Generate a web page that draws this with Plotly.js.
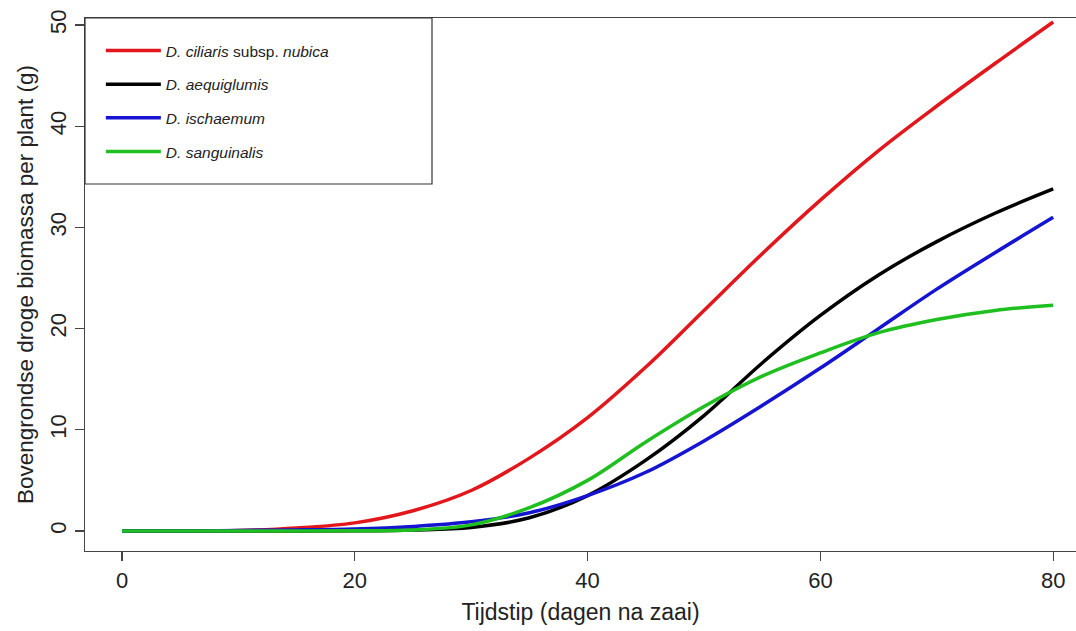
<!DOCTYPE html>
<html>
<head>
<meta charset="utf-8">
<script src="https://cdn.plot.ly/plotly-3.0.1.min.js"></script>
<style>html,body{margin:0;padding:0;background:#fff;}#chart{width:1076px;height:631px;}</style>
</head>
<body>
<div id="chart"></div>
<script>
// Days after sowing
var days = [0, 5, 10, 15, 20, 25, 30, 35, 40, 45, 50, 55, 60, 65, 70, 75, 80];
// Above-ground dry biomass per plant (g)
var ciliarisNubica = [0, 0, 0.05, 0.3, 0.8, 2.0, 4.0, 7.2, 11.2, 16.2, 21.8, 27.4, 32.7, 37.6, 42.0, 46.2, 50.3];
var aequiglumis    = [0, 0, 0, 0, 0.02, 0.1, 0.35, 1.3, 3.5, 7.0, 11.4, 16.6, 21.3, 25.3, 28.6, 31.4, 33.8];
var ischaemum      = [0, 0, 0.05, 0.1, 0.2, 0.45, 0.9, 1.8, 3.5, 5.8, 8.9, 12.4, 16.1, 20.0, 23.9, 27.5, 31.0];
var sanguinalis    = [0, 0, 0, 0, 0.02, 0.1, 0.6, 2.3, 5.0, 8.8, 12.3, 15.3, 17.6, 19.6, 20.9, 21.8, 22.3];

var seriesNames = [
  '<i>D. ciliaris</i> subsp. <i>nubica</i>',
  '<i>D. aequiglumis</i>',
  '<i>D. ischaemum</i>',
  '<i>D. sanguinalis</i>'
];
var seriesValues = [ciliarisNubica, aequiglumis, ischaemum, sanguinalis];
var seriesColors = ['#e3161b', '#000000', '#1414d2', '#1fbf1f'];

var xTicks = [0, 20, 40, 60, 80];
var yTicks = [0, 10, 20, 30, 40, 50];

var traces = seriesValues.map(function (vals, i) {
  return {
    x: days, y: vals, type: 'scatter', mode: 'lines',
    name: seriesNames[i], legendgroup: 'g' + i,
    line: {color: seriesColors[i], width: 3.5, shape: 'spline', smoothing: 1}
  };
});

var axisFont = {family: 'Liberation Sans, Arial, sans-serif', size: 22, color: '#222'};

var layout = {
  width: 1076, height: 631,
  margin: {l: 85, r: 0, t: 18, b: 80},
  paper_bgcolor: '#fff', plot_bgcolor: '#fff',
  font: {family: 'Liberation Sans, Arial, sans-serif', color: '#222'},
  xaxis: {
    range: [-3.18, 81.96], tickvals: xTicks, ticktext: xTicks.map(String),
    showgrid: false, zeroline: false, showline: true, mirror: true,
    linecolor: '#444', linewidth: 1.3, ticks: 'outside', ticklen: 9, tickcolor: '#444', tickwidth: 1.3,
    tickfont: axisFont,
    title: {text: 'Tijdstip (dagen na zaai)', font: {family: 'Liberation Sans, Arial, sans-serif', size: 23, color: '#222'}, standoff: 12}
  },
  yaxis: {
    range: [-1.98, 50.7], tickvals: yTicks, ticktext: yTicks.map(String), tickangle: -90,
    showgrid: false, zeroline: false, showline: true, mirror: false,
    linecolor: '#444', linewidth: 1.3, ticks: 'outside', ticklen: 9, tickcolor: '#444', tickwidth: 1.3,
    tickfont: axisFont,
    title: {text: 'Bovengrondse droge biomassa per plant (g)', font: {family: 'Liberation Sans, Arial, sans-serif', size: 22.5, color: '#222'}, standoff: 6}
  },
  showlegend: true,
  legend: {
    x: 0.016, y: 0.97, xanchor: 'left', yanchor: 'top',
    bgcolor: 'rgba(0,0,0,0)', borderwidth: 0,
    font: {family: 'Liberation Sans, Arial, sans-serif', size: 15.5, color: '#222'},
    tracegroupgap: 10.5, itemwidth: 55
  },
  shapes: [{
    type: 'rect', xref: 'paper', yref: 'paper',
    x0: 0, x1: (432 - 85) / 991, y0: 1 - (184 - 18) / 533, y1: 1,
    line: {color: '#333', width: 1.2}, fillcolor: 'rgba(0,0,0,0)', layer: 'above'
  }]
};

Plotly.newPlot('chart', traces, layout, {staticPlot: true, displayModeBar: false});
</script>
</body>
</html>
